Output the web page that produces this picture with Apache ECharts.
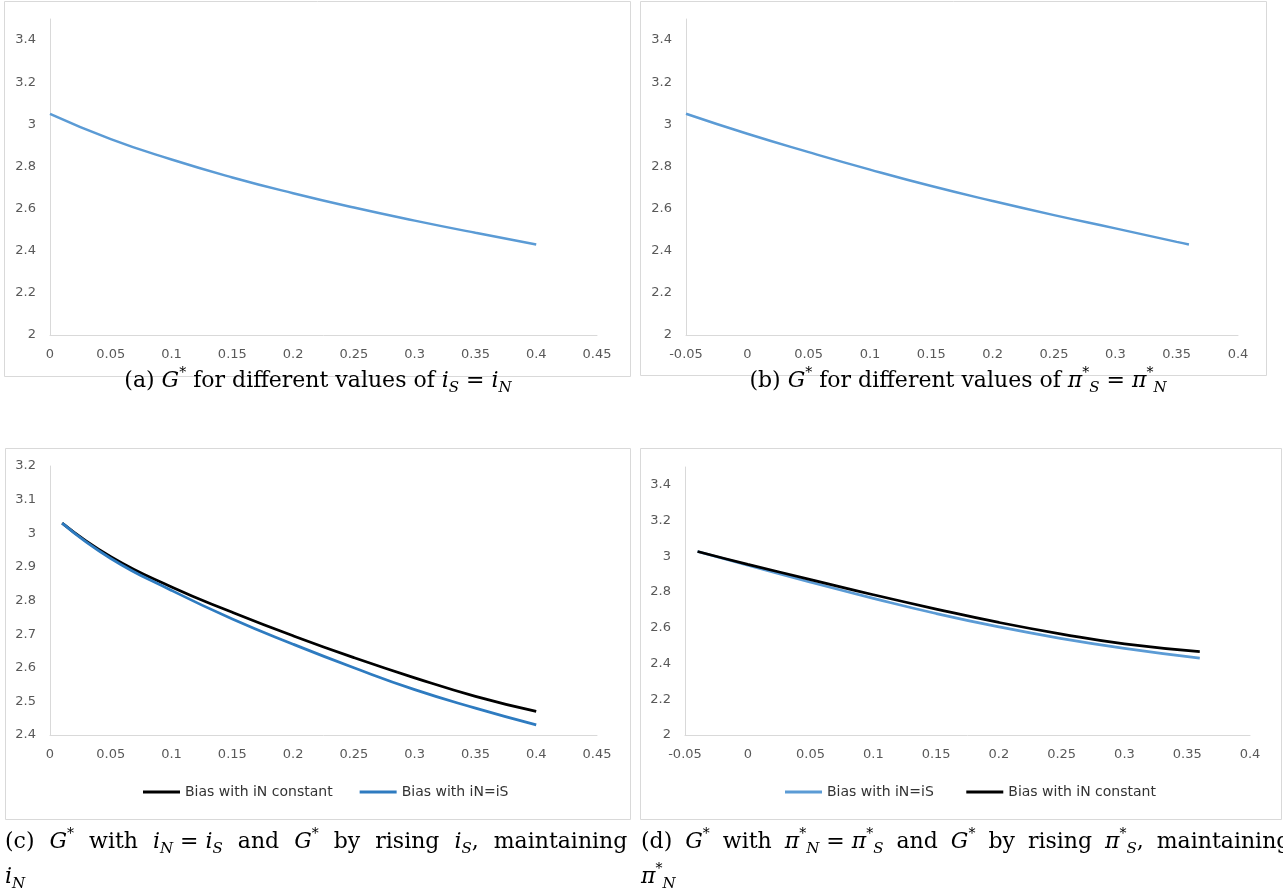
<!DOCTYPE html>
<html>
<head>
<meta charset="utf-8">
<title>G* panels</title>
<script src="https://cdn.jsdelivr.net/npm/echarts@6/dist/echarts.min.js"></script>
<style>
  html, body { margin: 0; padding: 0; background: #fff; }
  #main { width: 1283px; height: 896px; }
</style>
</head>
<body>
<div id="main"></div>
<script>
// (a) G* for different values of i_S = i_N
const xA = [0, 0.05, 0.1, 0.15, 0.2, 0.25, 0.3, 0.35, 0.4];
const gA = [3.05, 2.93, 2.833, 2.748, 2.673, 2.605, 2.543, 2.485, 2.43];

// (b) G* for different values of pi*_S = pi*_N
const xB = [-0.05, 0, 0.05, 0.1, 0.15, 0.2, 0.25, 0.3, 0.35, 0.36];
const gB = [3.05, 2.955, 2.868, 2.785, 2.707, 2.636, 2.569, 2.506, 2.442, 2.43];

// (c) rising i_S
const xC = [0.01, 0.05, 0.1, 0.15, 0.2, 0.25, 0.3, 0.35, 0.4];
const cConst = [3.03, 2.93, 2.84, 2.765, 2.695, 2.63, 2.57, 2.515, 2.47];
const cEqual = [3.03, 2.925, 2.83, 2.745, 2.67, 2.6, 2.535, 2.48, 2.43];

// (d) rising pi*_S
const xD = [-0.04, 0, 0.05, 0.1, 0.15, 0.2, 0.25, 0.3, 0.36];
const dEqual = [3.027, 2.95, 2.855, 2.765, 2.68, 2.605, 2.54, 2.485, 2.43];
const dConst = [3.027, 2.955, 2.87, 2.785, 2.705, 2.63, 2.565, 2.51, 2.467];

const namesC = ['Bias with iN constant', 'Bias with iN=iS'];
const namesD = ['Bias with iN=iS ', 'Bias with iN constant '];

const LIGHT = '#5b9bd5';
const DARK = '#2e7bc0';
const GREY = '#d9d9d9';
const SANS = 'DejaVu Sans';
const SERIF = 'DejaVu Serif';

const pts = (xs, ys) => xs.map((x, i) => [x, ys[i]]);

function xAxis(gridIndex, min, max) {
  return {
    type: 'value', gridIndex, min, max, interval: 0.05,
    axisLine: { onZero: false, lineStyle: { color: GREY, width: 1 } },
    axisTick: { show: false },
    splitLine: { show: false },
    axisLabel: { color: '#595959', fontFamily: SANS, fontSize: 13, margin: 13 },
  };
}

function yAxis(gridIndex, min, max, interval, showMax) {
  return {
    type: 'value', gridIndex, min, max, interval,
    axisLine: { show: true, onZero: false, lineStyle: { color: GREY, width: 1 } },
    axisTick: { show: false },
    splitLine: { show: false },
    axisLabel: { color: '#595959', fontFamily: SANS, fontSize: 13, margin: 14, showMaxLabel: showMax },
  };
}

function line(name, idx, data, color, width) {
  return {
    name, type: 'line', xAxisIndex: idx, yAxisIndex: idx,
    data, color, showSymbol: false, symbol: 'none',
    smooth: 0.5,
    lineStyle: { color, width },
    itemStyle: { color },
  };
}

function frame(x, y, w, h) {
  return {
    type: 'rect', silent: true, z: -1,
    shape: { x, y, width: w, height: h },
    style: { fill: 'none', stroke: GREY, lineWidth: 1 },
  };
}

// caption text, LaTeX-like; 'w' and 'v' are stretched interword spaces
const rich = {
  r: { fontFamily: SERIF, fontSize: 22, lineHeight: 30, fill: '#000' },
  m: { fontFamily: SERIF, fontStyle: 'italic', fontSize: 22, lineHeight: 30, fill: '#000' },
  p: { fontFamily: SERIF, fontSize: 14, lineHeight: 14, verticalAlign: 'top', fill: '#000' },
  b: { fontFamily: SERIF, fontStyle: 'italic', fontSize: 15, lineHeight: 20, verticalAlign: 'bottom', fill: '#000' },
  w: { fontFamily: SERIF, fontSize: 22, lineHeight: 30, width: 15 },
  v: { fontFamily: SERIF, fontSize: 22, lineHeight: 30, width: 13 },
};

function caption(text, x, y, align) {
  return {
    type: 'text', x, y, silent: true,
    style: { text, rich, fill: '#000', align, verticalAlign: 'middle' },
  };
}

const legendBase = {
  icon: 'rect', itemWidth: 37, itemHeight: 3, padding: 0,
  textStyle: { fontFamily: SANS, fontSize: 14, color: '#333' },
};

const capC = '{r|(c)}{w| }{m|G}{p|*}{w| }{r|with}{w| }{m|i}{b|N}{r| = }{m|i}{b|S}{w| }{r|and}{w| }'
  + '{m|G}{p|*}{w| }{r|by}{w| }{r|rising}{w| }{m|i}{b|S}{r|,}{w| }{r|maintaining}';
const capD = '{r|(d)}{v| }{m|G}{p|*}{v| }{r|with}{v| }{m|π}{p|*}{b|N}{r| = }{m|π}{p|*}{b|S}{v| }{r|and}{v| }'
  + '{m|G}{p|*}{v| }{r|by}{v| }{r|rising}{v| }{m|π}{p|*}{b|S}{r|,}{v| }{r|maintaining}';

const chart = echarts.init(document.getElementById('main'));
chart.setOption({
  animation: false,
  backgroundColor: '#fff',
  grid: [
    { left: 50, top: 19, width: 547, height: 316 },
    { left: 686, top: 19, width: 552, height: 316 },
    { left: 50, top: 466, width: 547, height: 269 },
    { left: 685, top: 467, width: 565, height: 268 },
  ],
  xAxis: [
    xAxis(0, 0, 0.45),
    xAxis(1, -0.05, 0.4),
    xAxis(2, 0, 0.45),
    xAxis(3, -0.05, 0.4),
  ],
  yAxis: [
    yAxis(0, 2, 3.5, 0.2, false),
    yAxis(1, 2, 3.5, 0.2, false),
    yAxis(2, 2.4, 3.2, 0.1, true),
    yAxis(3, 2, 3.5, 0.2, false),
  ],
  legend: [
    Object.assign({}, legendBase, { left: 143, top: 785, itemGap: 27, data: namesC }),
    Object.assign({}, legendBase, { left: 785, top: 785, itemGap: 28, data: namesD }),
  ],
  series: [
    line('G a', 0, pts(xA, gA), LIGHT, 2.5),
    line('G b', 1, pts(xB, gB), LIGHT, 2.5),
    line(namesC[0], 2, pts(xC, cConst), '#000', 2.75),
    line(namesC[1], 2, pts(xC, cEqual), DARK, 2.75),
    line(namesD[0], 3, pts(xD, dEqual), LIGHT, 2.75),
    line(namesD[1], 3, pts(xD, dConst), '#000', 2.75),
  ],
  graphic: [
    frame(4.5, 1.5, 626, 375),
    frame(640.5, 1.5, 626, 374),
    frame(5.5, 448.5, 625, 371),
    frame(640.5, 448.5, 641, 371),
    caption('{r|(a) }{m|G}{p|*}{r| for different values of }{m|i}{b|S}{r| = }{m|i}{b|N}', 318, 381, 'center'),
    caption('{r|(b) }{m|G}{p|*}{r| for different values of }{m|π}{p|*}{b|S}{r| = }{m|π}{p|*}{b|N}', 958, 381, 'center'),
    caption(capC, 5, 842, 'left'),
    caption('{m|i}{b|N}', 5, 877, 'left'),
    caption(capD, 641, 842, 'left'),
    caption('{m|π}{p|*}{b|N}', 641, 877, 'left'),
  ],
});
</script>
</body>
</html>
